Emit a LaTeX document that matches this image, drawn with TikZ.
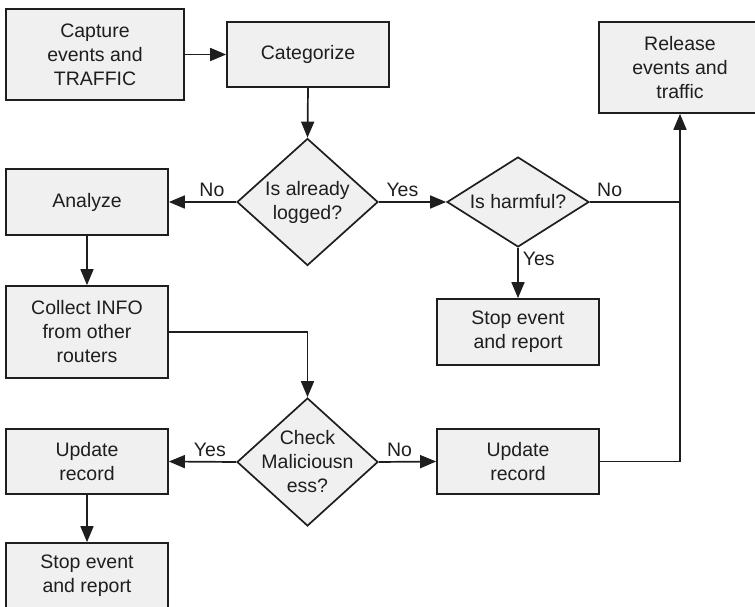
\documentclass[tikz,border=0pt]{standalone}
\usepackage{fontspec}
\setmainfont{Liberation Sans}
\usetikzlibrary{shapes.geometric,arrows.meta}
\definecolor{boxfill}{HTML}{F0F0F0}
\definecolor{ink}{HTML}{1E1E1E}
\begin{document}
\begin{tikzpicture}[x=1pt,y=-1pt,
  every node/.style={font=\fontsize{19.5}{24}\selectfont, text=ink},
  box/.style={draw=ink, fill=boxfill, line width=1.7pt, rectangle, align=center, inner sep=0pt, minimum width=162pt},
  dia/.style={draw=ink, fill=boxfill, line width=1.7pt, diamond, inner sep=0pt},
  txt/.style={align=center, inner sep=0pt},
  conn/.style={draw=ink, line width=1.7pt},
  arr/.style={conn, -{Triangle[length=16pt,width=13pt]}},
  lbl/.style={inner sep=4pt}
]
\useasboundingbox (0,0) rectangle (755,607);
\clip (0,0) rectangle (755,607);

% boxes
\node[box, minimum width=178pt, minimum height=91pt] (cap) at (95,54.5) {Capture\\events and\\TRAFFIC};
\node[box, minimum height=65pt] (cat) at (308,54.5) {Categorize};
\node[box, minimum height=91pt] (rel) at (680,67.5) {Release\\events and\\traffic};
\node[box, minimum height=66pt] (ana) at (87,202) {Analyze};
\node[box, minimum height=66pt] (stop1) at (518,332) {Stop event\\and report};
\node[box, minimum height=92pt] (col) at (87,332) {Collect INFO\\from other\\routers};
\node[box, minimum height=65pt] (upl) at (87,461.5) {Update\\record};
\node[box, minimum height=65pt] (upr) at (518,461.5) {Update\\record};
\node[box, minimum height=66pt] (stop2) at (87,576) {Stop event\\and report};

% diamonds
\node[dia, minimum width=141pt, minimum height=127pt] (d1) at (307.5,202) {};
\node[txt] (d1t) at (d1) {Is already\\logged?};
\node[dia, minimum width=142pt, minimum height=90pt] (d2) at (518,202) {};
\node[txt] (d2t) at (d2) {Is harmful?};
\node[dia, minimum width=141pt, minimum height=128pt] (d3) at (307.5,462) {};
\node[txt] (d3t) at (d3) {Check\\Maliciousn\\ess?};

% connectors
\draw[arr] (cap.east) -- (cap.east -| cat.west);
\draw[arr] (cat.south) -- (d1.north);
\draw[arr] (d1.west) -- node[lbl, pos=0.36, above] (l1) {No} (ana.east);
\draw[arr] (d1.east) -- node[lbl, pos=0.35, above] (l2) {Yes} (d2.west);
\coordinate (j) at (rel.south |- d2.east);
\draw[conn] (d2.east) -- node[lbl, pos=0.22, above] (l3) {No} (j);
\draw[arr] (d2.south) -- node[lbl, pos=0.21, right] (l4) {Yes} (stop1.north);
\draw[arr] (upr.east) -| (rel.south);
\draw[arr] (ana.south) -- (col.north);
\draw[arr] (col.east) -| (d3.north);
\draw[arr] (d3.west) -- node[lbl, pos=0.39, above] (l5) {Yes} (upl.east);
\draw[arr] (d3.east) -- node[lbl, pos=0.36, above] (l6) {No} (upr.west);
\draw[arr] (upl.south) -- (stop2.north);
\end{tikzpicture}
\end{document}
